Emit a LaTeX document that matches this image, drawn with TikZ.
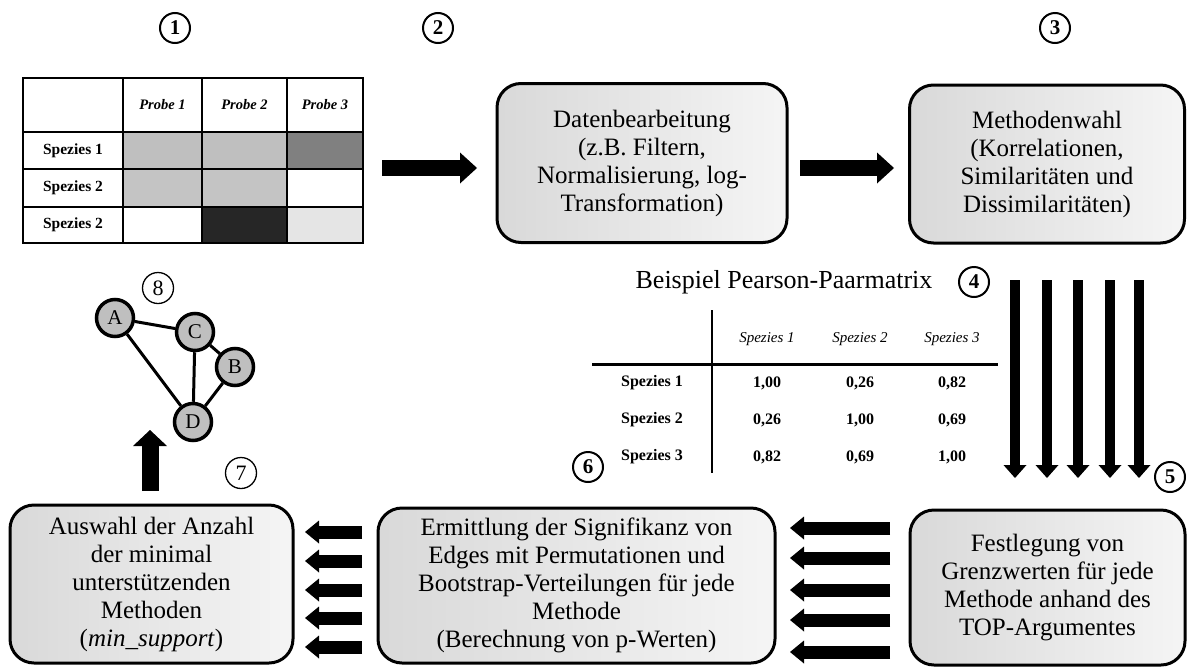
\documentclass[tikz,border=0pt]{standalone}
\usepackage{fontspec}
\setmainfont{Liberation Serif}
\usetikzlibrary{arrows.meta,shapes.geometric}

\begin{document}
\begin{tikzpicture}[x=1pt,y=-1pt,
  stepbox/.style={draw, line width=3pt, rounded corners=24pt,
    left color=black!15, right color=black!4, align=center,
    font=\fontsize{25}{28}\selectfont, inner sep=0pt},
  num/.style={circle, draw, line width=2pt, minimum size=30pt, inner sep=0pt,
    font=\bfseries\fontsize{21}{21}\selectfont},
  numthin/.style={circle, draw, line width=1.3pt, minimum size=31pt, inner sep=0pt,
    font=\fontsize{22}{22}\selectfont},
  gnode/.style={circle, draw, line width=3.5pt, fill=black!25, minimum size=37pt,
    inner sep=0pt, font=\fontsize{21}{21}\selectfont},
  gedge/.style={line width=3pt},
  fatR/.style={line width=16pt, -{Triangle[length=17pt,width=31pt,line width=0pt]}},
  fatD/.style={line width=10pt, -{Triangle[length=13pt,width=23pt,line width=0pt]}},
  fatL/.style={line width=13pt, -{Triangle[length=14pt,width=23pt,line width=0pt]}},
  fatU/.style={line width=17pt, -{Triangle[length=16pt,width=34pt,line width=0pt]}},
  thead/.style={font=\bfseries\itshape\fontsize{14.5}{14.5}\selectfont},
  tlab/.style={font=\bfseries\fontsize{15.5}{15.5}\selectfont},
  phead/.style={font=\itshape\fontsize{15}{15}\selectfont},
  plab/.style={font=\bfseries\fontsize{16}{16}\selectfont},
  pval/.style={font=\bfseries\fontsize{16}{16}\selectfont},
]
\useasboundingbox (0,0) rectangle (1189,667);

% step numbers
\node[num] (n1) at (175,28) {1};
\node[num] (n2) at (438,28) {2};
\node[num] (n3) at (1055,28) {3};
\node[num] (n4) at (974,282) {4};
\node[num] (n5) at (1170,477) {5};
\node[num] (n6) at (588,467) {6};
\node[numthin] (n7) at (241,473) {7};
\node[numthin] (n8) at (158,288) {8};

% abundance table: cell shading
\fill[black!25] (123,132) rectangle (202,169);
\fill[black!25] (202,132) rectangle (287,169);
\fill[black!50] (287,132) rectangle (363,169);
\fill[black!23] (123,169) rectangle (202,207);
\fill[black!23] (202,169) rectangle (287,207);
\fill[black!85] (202,207) rectangle (287,243);
\fill[black!10] (287,207) rectangle (363,243);
% abundance table: rules
\draw[line width=2.5pt] (23,78) rectangle (363,243);
\foreach \xx in {123,202,287} \draw[line width=2.2pt] (\xx,78) -- (\xx,243);
\foreach \yy in {132,169,207} \draw[line width=2.2pt] (23,\yy) -- (363,\yy);
% abundance table: labels
\node[thead] (p1) at (162.5,105) {Probe 1};
\node[thead] (p2) at (244.5,105) {Probe 2};
\node[thead] (p3) at (325,105) {Probe 3};
\node[tlab] (s1) at (73,150.5) {Spezies 1};
\node[tlab] (s2) at (73,188) {Spezies 2};
\node[tlab] (s3) at (73,225) {Spezies 2};

% process boxes
\node[stepbox, minimum width=290pt, minimum height=159pt] (b2) at (642,163)
  {Datenbearbeitung\\(z.B. Filtern,\\Normalisierung, log-\\Transformation)};
\node[stepbox, minimum width=275pt, minimum height=158pt] (b3) at (1047,164)
  {Methodenwahl\\(Korrelationen,\\Similaritäten und\\Dissimilaritäten)};
\node[stepbox, minimum width=275pt, minimum height=155pt] (b5) at (1047.5,587.5)
  {Festlegung von\\Grenzwerten für jede\\Methode anhand des\\TOP-Argumentes};
\node[stepbox, minimum width=397pt, minimum height=155pt] (b4) at (576.5,585.5)
  {Ermittlung der Signifikanz von\\Edges mit Permutationen und\\Bootstrap-Verteilungen für jede\\Methode\\(Berechnung von p-Werten)};
\node[stepbox, minimum width=283pt, minimum height=158pt] (b7) at (151.5,584)
  {Auswahl der Anzahl\\der minimal\\unterstützenden\\Methoden\\(\textit{min\_support})};

% horizontal block arrows at the top
\coordinate (r1s) at (382,168); \coordinate (r1e) at (477,168);
\coordinate (r2s) at (800,168); \coordinate (r2e) at (894,168);
\draw[fatR] (r1s) -- (r1e);
\draw[fatR] (r2s) -- (r2e);

% five downward arrows
\foreach \xx [count=\i] in {1015,1047,1078,1110,1139} {
  \coordinate (d\i s) at (\xx,280); \coordinate (d\i e) at (\xx,478);
  \draw[fatD] (d\i s) -- (d\i e);
}
% leftward arrows between the lower boxes
\foreach \yy [count=\i] in {528,558,590,620,652} {
  \coordinate (la\i s) at (890,\yy); \coordinate (la\i e) at (790,\yy);
  \draw[fatL] (la\i s) -- (la\i e);
}
\foreach \yy [count=\i] in {532,561,590,618,647} {
  \coordinate (lb\i s) at (362,\yy); \coordinate (lb\i e) at (305,\yy);
  \draw[fatL] (lb\i s) -- (lb\i e);
}
% upward arrow to the network
\coordinate (us) at (150,491); \coordinate (ue) at (150,430);
\draw[fatU] (us) -- (ue);

% resulting network
\node[gnode] (A) at (115,318) {A};
\node[gnode] (C) at (195,332) {C};
\node[gnode] (B) at (235,367) {B};
\node[gnode] (D) at (193,422) {D};
\draw[gedge] (A) -- (C);
\draw[gedge] (A) -- (D);
\draw[gedge] (C) -- (D);
\draw[gedge] (C) -- (B);
\draw[gedge] (B) -- (D);

% Pearson pair matrix
\node[font=\fontsize{26}{26}\selectfont] (ptitle) at (784,282) {Beispiel Pearson-Paarmatrix};
\draw[line width=2.5pt] (712,310) -- (712,473);
\draw[line width=3pt] (592,364) -- (998,364);
\node[phead] (h1) at (767,339) {Spezies 1};
\node[phead] (h2) at (860,339) {Spezies 2};
\node[phead] (h3) at (952,339) {Spezies 3};
\node[plab] (r1) at (652,383) {Spezies 1};
\node[plab] (r2) at (652,420) {Spezies 2};
\node[plab] (r3) at (652,457) {Spezies 3};
\node[pval] (v11) at (767,383) {1,00};
\node[pval] (v12) at (860,383) {0,26};
\node[pval] (v13) at (952,383) {0,82};
\node[pval] (v21) at (767,420) {0,26};
\node[pval] (v22) at (860,420) {1,00};
\node[pval] (v23) at (952,420) {0,69};
\node[pval] (v31) at (767,457) {0,82};
\node[pval] (v32) at (860,457) {0,69};
\node[pval] (v33) at (952,457) {1,00};
\end{tikzpicture}
\end{document}
